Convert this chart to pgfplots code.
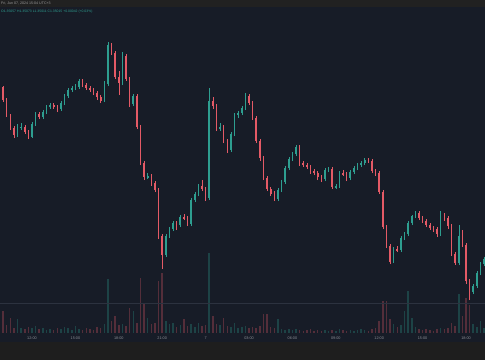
\documentclass[border=0pt]{standalone}
\usepackage{fontspec}
\setmainfont{Liberation Sans}
\usepackage{pgfplots}
\pgfplotsset{compat=1.18}
\usepackage{pgfplotstable}
\definecolor{outerbg}{HTML}{1E1E1E}
\definecolor{headbg}{HTML}{212121}
\definecolor{chartbg}{HTML}{171C27}
\definecolor{upc}{HTML}{2E9E90}
\definecolor{dnc}{HTML}{E45A66}
\definecolor{tickc}{HTML}{8A8D94}
\definecolor{hdrc}{HTML}{9A9A9A}
\definecolor{linec}{HTML}{2C323F}
\pgfplotstableread{
t o h l c v
9.75 251 253 244 246 6
10.00 246 247 231 233 22
10.25 233 235 216 218 8
10.50 218 219 203 205 15
10.75 205 207 195 198 5
11.00 198 209 196 206 14
11.25 206 210 203 206 5
11.50 206 208 199 201 4
11.75 201 203 194 196 6
12.00 196 211 195 209 5
12.25 209 221 207 219 7
12.50 219 221 214 216 4
12.75 216 223 214 221 5
13.00 221 228 219 226 3
13.25 226 230 224 228 4
13.50 228 230 224 226 3
13.75 226 228 221 224 5
14.00 224 232 222 230 4
14.25 230 239 228 237 6
14.50 237 245 235 243 5
14.75 243 247 241 245 3
15.00 245 249 243 246 7
15.25 246 254 244 252 4
15.50 252 254 246 248 3
15.75 248 250 243 245 5
16.00 245 247 241 243 4
16.25 243 245 238 240 3
16.50 240 242 233 236 6
16.75 236 238 230 232 5
17.00 232 252 231 249 9
17.25 249 291 247 288 54
17.50 288 290 278 280 12
17.75 280 282 254 256 17
18.00 256 262 238 250 8
18.25 250 281 248 277 9
18.50 277 279 252 254 7
18.75 254 256 226 229 25
19.00 229 239 227 237 22
19.25 237 239 204 206 10
19.50 206 208 168 170 55
19.75 170 172 153 156 30
20.00 156 160 154 157 15
20.25 157 159 147 150 9
20.50 150 152 141 143 10
20.75 143 145 94 97 52
21.00 97 99 64 78 60
21.25 78 99 76 97 12
21.50 97 106 95 104 9
21.75 104 112 102 110 10
22.00 110 112 103 108 6
22.25 108 118 106 116 8
22.50 116 119 113 115 14
22.75 115 117 107 109 7
23.00 109 135 107 133 9
23.25 133 141 131 139 6
23.50 139 149 137 147 10
23.75 147 153 142 144 7
24.00 144 146 132 135 8
24.25 135 245 133 232 80
24.50 232 236 224 227 17
24.75 227 229 202 204 9
25.00 204 210 202 206 8
25.25 206 208 190 192 15
25.50 192 194 180 183 7
25.75 183 201 181 199 6
26.00 199 220 197 218 10
26.25 218 222 215 220 5
26.50 220 227 218 225 6
26.75 225 240 223 237 7
27.00 237 239 228 230 5
27.25 230 232 213 215 6
27.50 215 217 190 192 5
27.75 192 194 172 175 7
28.00 175 177 153 155 19
28.25 155 157 142 144 19
28.50 144 146 137 139 6
28.75 139 142 132 134 5
29.00 134 145 132 143 14
29.25 143 153 141 151 4
29.50 151 167 149 165 3
29.75 165 176 163 174 4
30.00 174 181 172 179 3
30.25 179 188 177 186 4
30.50 186 188 167 170 3
30.75 170 172 166 168 2
31.00 168 170 164 166 3
31.25 166 168 159 162 4
31.50 162 164 158 160 2
31.75 160 162 153 156 3
32.00 156 158 151 154 2
32.25 154 165 152 163 3
32.50 163 166 161 164 2
32.75 164 166 144 146 3
33.00 146 149 144 147 2
33.25 147 162 145 160 4
33.50 160 163 157 159 3
33.75 159 161 152 155 2
34.00 155 163 153 161 3
34.25 161 167 159 165 2
34.50 165 170 163 168 3
34.75 168 172 166 170 4
35.00 170 175 168 173 3
35.25 173 175 170 172 2
35.50 172 174 160 162 4
35.75 162 164 157 160 5
36.00 160 162 139 141 12
36.25 141 143 104 106 32
36.50 106 108 85 87 32
36.75 87 89 69 71 14
37.00 71 86 70 84 9
37.25 84 87 81 83 6
37.50 83 97 81 95 8
37.75 95 101 93 99 22
38.00 99 112 97 110 42
38.25 110 118 108 117 15
38.50 117 122 115 120 6
38.75 120 122 113 115 4
39.00 115 117 110 112 3
39.25 112 114 106 108 4
39.50 108 110 103 105 3
39.75 105 107 101 104 2
40.00 104 106 96 99 4
40.25 99 122 97 117 5
40.50 117 120 112 115 4
40.75 115 117 104 107 5
41.00 107 109 77 79 10
41.25 79 81 68 70 7
41.50 70 108 68 97 39
41.75 97 103 86 88 17
42.00 88 90 49 52 35
42.25 52 54 33 41 28
42.50 41 49 39 47 9
42.75 47 62 45 60 6
43.00 60 71 58 69 12
43.25 69 76 67 74 5
}\candles
\pgfplotsset{
  up/.style={restrict expr to domain={\thisrow{c}-\thisrow{o}}{-0.1:1000}},
  dn/.style={restrict expr to domain={\thisrow{c}-\thisrow{o}}{-1000:-0.5}},
}
\begin{document}
\begin{tikzpicture}
\useasboundingbox (0,0) rectangle (485pt,360pt);
\fill[outerbg] (0,0) rectangle (485pt,360pt);
\fill[chartbg] (0,18pt) rectangle (485pt,353pt);
\fill[headbg] (0,353pt) rectangle (485pt,360pt);
\node[anchor=west, inner sep=0pt, text=hdrc, font=\fontsize{3.6}{4}\selectfont] at (1pt,356.5pt) {Fri, Jun 07, 2024 15:04 UTC+3};
\node[anchor=west, inner sep=0pt, text=upc, font=\fontsize{3.4}{4}\selectfont] at (1pt,348pt) {O1.35057 H1.35073 L1.35011 C1.35015 +0.00042 (+0.03\%)};
\begin{axis}[
  at={(0pt,27pt)}, anchor=south west,
  scale only axis, width=485pt, height=325pt,
  xmin=9.788, xmax=43.313, ymin=0, ymax=325,
  axis line style={draw=none},
  ytick=\empty,
  xtick={12,15,...,42},
  xticklabels={12:00,15:00,18:00,21:00,7,03:00,06:00,09:00,12:00,15:00,18:00},
  major tick length=0pt,
  xticklabel style={anchor=center, yshift=-5.5pt, font=\fontsize{3.8}{4}\selectfont, text=tickc},
  clip=true,
]
% volume
\addplot[ycomb, draw=upc, draw opacity=0.3, line width=1.5pt, mark=none, up] table[x=t, y=v] {\candles};
\addplot[ycomb, draw=dnc, draw opacity=0.3, line width=1.5pt, mark=none, dn] table[x=t, y=v] {\candles};
\addplot[linec, line width=0.4pt, mark=none] coordinates {(9.788,30) (43.313,30)};
% wicks
\addplot[upc, draw=none, mark=none, up, error bars/.cd, y dir=both, y explicit, error mark=none,
  error bar style={draw=upc, line width=0.5pt}]
  table[x=t, y=l, y error plus expr=\thisrow{h}-\thisrow{l}, y error minus expr=0] {\candles};
\addplot[dnc, draw=none, mark=none, dn, error bars/.cd, y dir=both, y explicit, error mark=none,
  error bar style={draw=dnc, line width=0.5pt}]
  table[x=t, y=l, y error plus expr=\thisrow{h}-\thisrow{l}, y error minus expr=0] {\candles};
% bodies
\addplot[upc, draw=none, mark=none, up, error bars/.cd, y dir=both, y explicit, error mark=none,
  error bar style={draw=upc, line width=1.6pt}]
  table[x=t, y expr=(\thisrow{o}+\thisrow{c})/2, y error expr=abs(\thisrow{c}-\thisrow{o})/2+0.4] {\candles};
\addplot[dnc, draw=none, mark=none, dn, error bars/.cd, y dir=both, y explicit, error mark=none,
  error bar style={draw=dnc, line width=1.6pt}]
  table[x=t, y expr=(\thisrow{o}+\thisrow{c})/2, y error expr=abs(\thisrow{c}-\thisrow{o})/2+0.4] {\candles};
\end{axis}
\end{tikzpicture}
\end{document}
